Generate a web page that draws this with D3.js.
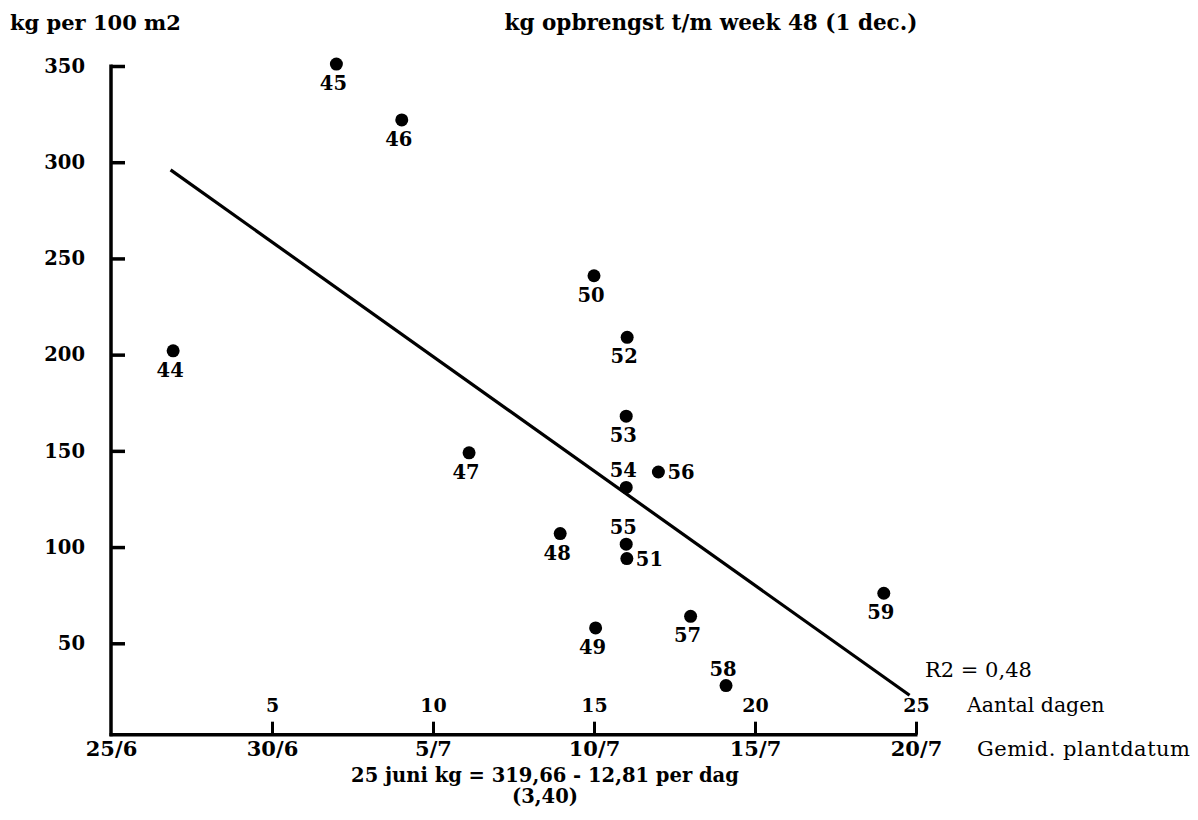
<!DOCTYPE html>
<html>
<head>
<meta charset="utf-8">
<script src="https://cdn.jsdelivr.net/npm/d3@7"></script>
<style>
  html, body { margin: 0; padding: 0; background: #fff; }
  svg { display: block; }
  text { font-family: "DejaVu Serif", serif; fill: #000; }
</style>
</head>
<body>
<svg id="chart" width="1198" height="820"></svg>
<script>
// ---- data ----
const plotIds = ["44","45","46","47","48","49","50","51","52","53","54","55","56","57","58","59"];
const plantDays = [1.93, 7.0, 9.03, 11.12, 13.95, 15.05, 15.0, 16.02, 16.03, 16.0, 16.0, 16.0, 17.0, 18.0, 19.1, 24.0];
const yieldKg  = [202, 351, 322, 149, 107, 58, 241, 94, 209, 168, 131, 101.5, 139, 64, 28, 76];
const labelSide = ["below","below","below","below","below","below","below","right","below","below","above","above","right","below","above","below"];
const dayTicks = [5, 10, 15, 20, 25];
const dateTickValues = [0, 5, 10, 15, 20, 25];
const dateTickLabels = ["25/6", "30/6", "5/7", "10/7", "15/7", "20/7"];
const kgTicks = [50, 100, 150, 200, 250, 300, 350];
const regressionDays = [1.85, 24.8];
const regressionKg = [296, 23];

// ---- layout ----
const svg = d3.select("#chart");
const x = d3.scaleLinear().domain([0, 25]).range([111, 916]);
const y = d3.scaleLinear().domain([0, 350]).range([739.5, 66]);
const axisY = y(2.5);

// y axis
const gy = svg.append("g").attr("transform", `translate(${x(0)},0)`)
  .call(d3.axisLeft(y).tickValues(kgTicks).tickSizeInner(-14).tickSizeOuter(0).tickPadding(26));
gy.select(".domain").remove();
gy.selectAll(".tick line").attr("stroke", "#000").attr("stroke-width", 3.5);
gy.selectAll(".tick text").attr("font-size", 19.5).attr("font-weight", "bold")
  .attr("font-family", "DejaVu Serif");
svg.append("line").attr("x1", x(0)).attr("x2", x(0)).attr("y1", y(350) - 1.5).attr("y2", axisY + 1.5)
  .attr("stroke", "#000").attr("stroke-width", 3.5);

// x axis (days, above)
const gx = svg.append("g").attr("transform", `translate(0,${axisY})`)
  .call(d3.axisTop(x).tickValues(dayTicks).tickSizeInner(13).tickSizeOuter(0).tickPadding(10));
gx.select(".domain").remove();
gx.selectAll(".tick line").attr("stroke", "#000").attr("stroke-width", 3);
gx.selectAll(".tick text").attr("font-size", 19).attr("font-weight", "bold").attr("font-family", "DejaVu Serif");
svg.append("line").attr("x1", x(0) - 1.5).attr("x2", x(25) + 1.5).attr("y1", axisY).attr("y2", axisY)
  .attr("stroke", "#000").attr("stroke-width", 3.5);

// date axis (below)
const gd = svg.append("g").attr("transform", `translate(0,${axisY})`)
  .call(d3.axisBottom(x).tickValues(dateTickValues).tickSize(0).tickPadding(6)
    .tickFormat((d, i) => dateTickLabels[i]));
gd.select(".domain").remove();
gd.selectAll(".tick text").attr("font-size", 21).attr("font-weight", "bold").attr("font-family", "DejaVu Serif");

// regression line
const regData = regressionDays.map((d, i) => ({ d, kg: regressionKg[i] }));
svg.append("path").datum(regData)
  .attr("d", d3.line().x(p => x(p.d)).y(p => y(p.kg)))
  .attr("stroke", "#000").attr("stroke-width", 3.2).attr("fill", "none");

// points
const pts = plotIds.map((id, i) => ({ id, d: plantDays[i], kg: yieldKg[i], side: labelSide[i] }));
svg.append("g").selectAll("circle").data(pts).join("circle")
  .attr("cx", p => x(p.d)).attr("cy", p => y(p.kg)).attr("r", 6.5).attr("fill", "#000");

svg.append("g").selectAll("text").data(pts).join("text")
  .attr("x", p => p.side === "right" ? x(p.d) + 9 : x(p.d) - 3)
  .attr("y", p => p.side === "below" ? y(p.kg) + 26 : p.side === "above" ? y(p.kg) - 10 : y(p.kg) + 7)
  .attr("text-anchor", p => p.side === "right" ? "start" : "middle")
  .attr("font-size", 19.5).attr("font-weight", "bold")
  .text(p => p.id);

// texts
svg.append("text").attr("x", 10).attr("y", 30).attr("font-size", 21).attr("font-weight", "bold")
  .text("kg per 100 m2");
svg.append("text").attr("x", 711).attr("y", 30).attr("text-anchor", "middle").attr("font-size", 21.5).attr("font-weight", "bold")
  .text("kg opbrengst t/m week 48 (1 dec.)");
svg.append("text").attr("x", 925).attr("y", 677).attr("font-size", 21)
  .text("R2 = 0,48");
svg.append("text").attr("x", 967).attr("y", axisY - 23).attr("font-size", 20.5)
  .text("Aantal dagen");
svg.append("text").attr("x", 977).attr("y", axisY + 21).attr("font-size", 21).attr("textLength", 213)
  .text("Gemid. plantdatum");
svg.append("text").attr("x", 545).attr("y", 782).attr("text-anchor", "middle").attr("font-size", 19.5).attr("font-weight", "bold")
  .text("25 juni kg = 319,66 - 12,81 per dag");
svg.append("text").attr("x", 545).attr("y", 803).attr("text-anchor", "middle").attr("font-size", 19.5).attr("font-weight", "bold")
  .text("(3,40)");
</script>
</body>
</html>
